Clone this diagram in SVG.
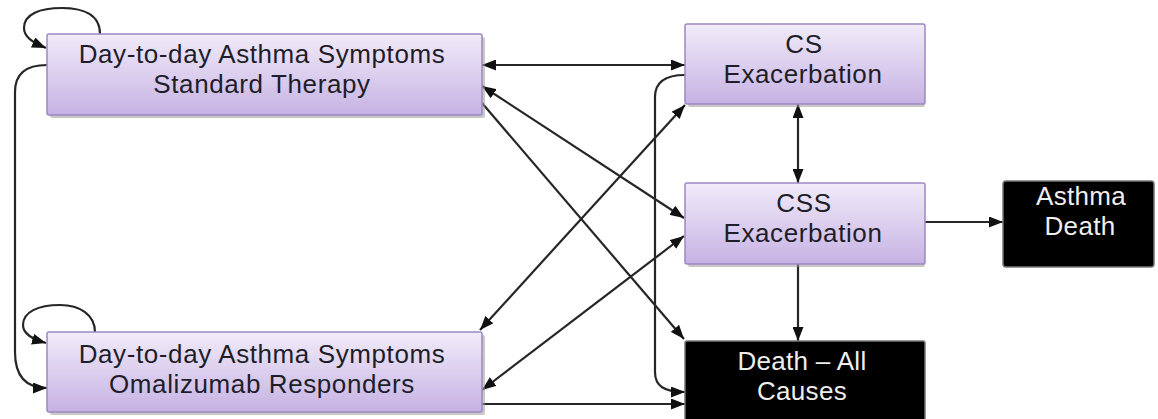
<svg xmlns="http://www.w3.org/2000/svg" width="1158" height="419" viewBox="0 0 1158 419">
<defs>
<linearGradient id="pg" x1="0" y1="0" x2="0" y2="1">
<stop offset="0" stop-color="#f1ebf9"/>
<stop offset="1" stop-color="#c6b2e3"/>
</linearGradient>
<marker id="ah" viewBox="0 0 14 11" refX="14" refY="5.5" markerWidth="14" markerHeight="11" markerUnits="userSpaceOnUse" orient="auto-start-reverse">
<path d="M0,0 L14,5.5 L0,11 z" fill="#111"/>
</marker>
</defs>
<style>
.box{fill:url(#pg);stroke:#9c88c2;stroke-width:1.5}
.dark{fill:#000;stroke:#777;stroke-width:1.5}
.sh{fill:#9a9a9a;opacity:0.55}
.t{font-family:"Liberation Sans",Arial,sans-serif;font-size:26px;letter-spacing:0.6px;fill:#1e1e2a;text-anchor:middle}
.tw{font-family:"Liberation Sans",Arial,sans-serif;font-size:26px;letter-spacing:0.3px;fill:#eeeeee;text-anchor:middle}
.c{fill:none;stroke:#262626;stroke-width:2.2}
.one{marker-end:url(#ah)}
.two{marker-start:url(#ah);marker-end:url(#ah)}
</style>
<g id="connectors">
<path class="c two" d="M482,65 L685,65"/>
<path class="c one" d="M685,75 C665,75 655,82 655,97 L655,372 C655,386 664,392 685,392"/>
<path class="c two" d="M798,104 L798,183"/>
<path class="c one" d="M925,222 L1003,222"/>
<path class="c one" d="M798,264 L798,341"/>
<path class="c two" d="M482,86 L684,218"/>
<path class="c one" d="M482,103 L684,339"/>
<path class="c two" d="M480,330 L685,105"/>
<path class="c two" d="M482,390 L684,236"/>
<path class="c one" d="M482,404 L685,404"/>
<path class="c one" d="M47,65 C26,65 15,74 15,92 L15,352 C15,376 26,388 47,388"/>
<path class="c one" d="M100,34 C100,14 82,8 62,8 C40,8 24,14 24,28 C24,37 32,42 46,48"/>
<path class="c one" d="M95,332 C95,315 80,305 60,305 C38,305 23,312 23,325 C23,334 32,339 46,343"/>
</g>
<g id="node-standard">
<rect class="sh" x="50" y="37" width="435" height="81" rx="2"/>
<rect class="box" x="47" y="34" width="435" height="81" rx="2"/>
<text class="t" x="262" y="63">Day-to-day Asthma  Symptoms</text>
<text class="t" x="262" y="93">Standard Therapy</text>
</g>
<g id="node-omalizumab">
<rect class="sh" x="50" y="335" width="435" height="80" rx="2"/>
<rect class="box" x="47" y="332" width="435" height="80" rx="2"/>
<text class="t" x="262" y="363">Day-to-day Asthma  Symptoms</text>
<text class="t" x="262" y="393">Omalizumab  Responders</text>
</g>
<g id="node-cs">
<rect class="sh" x="688" y="27" width="237" height="80" rx="2"/>
<rect class="box" x="685" y="24" width="240" height="80" rx="2"/>
<text class="t" x="804" y="53">CS</text>
<text class="t" x="803" y="83">Exacerbation</text>
</g>
<g id="node-css">
<rect class="sh" x="688" y="186" width="237" height="81" rx="2"/>
<rect class="box" x="685" y="183" width="240" height="81" rx="2"/>
<text class="t" x="804" y="212">CSS</text>
<text class="t" x="803" y="242">Exacerbation</text>
</g>
<g id="node-death">
<rect class="dark" x="685" y="341" width="240" height="90" rx="2"/>
<text class="tw" x="802" y="370">Death – All</text>
<text class="tw" x="802" y="400">Causes</text>
</g>
<g id="node-asthma-death">
<rect class="dark" x="1003" y="181" width="151" height="86" rx="3"/>
<text class="tw" x="1081" y="205">Asthma</text>
<text class="tw" x="1080" y="235">Death</text>
</g>
</svg>
